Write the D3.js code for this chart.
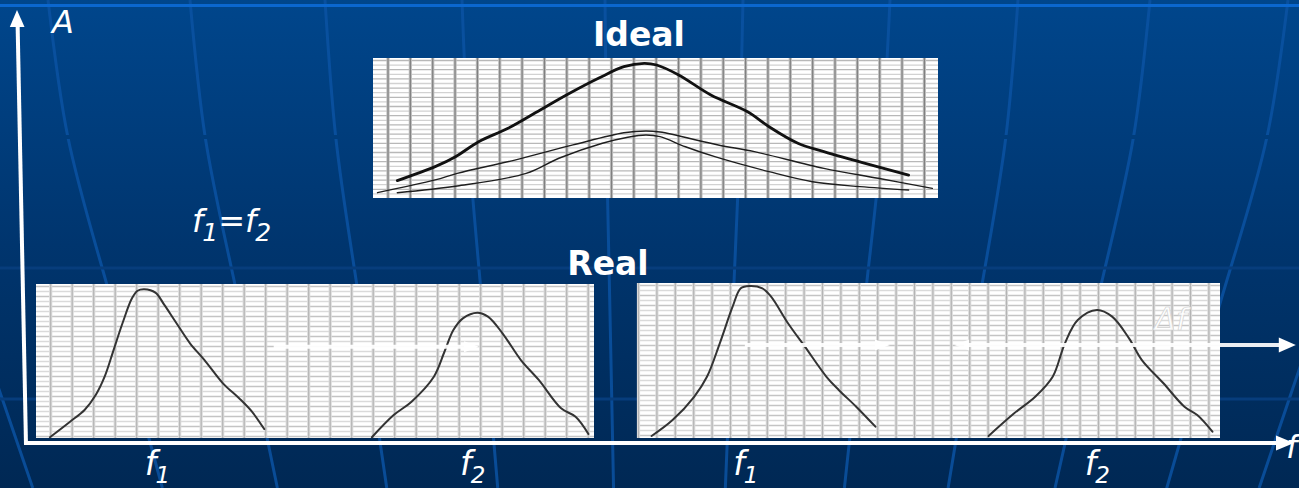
<!DOCTYPE html>
<html>
<head>
<meta charset="utf-8">
<script src="https://cdn.jsdelivr.net/npm/d3@7"></script>
<style>
  html, body { margin: 0; padding: 0; background: #003670; overflow: hidden; }
  svg { display: block; }
</style>
</head>
<body>
<svg id="chart" width="1299" height="488"></svg>
<script>
// ---- Spectra, as [f, A] on a 0..100 scale of their own panel ----
// Ideal case: two equal-frequency components and their sum
const idealSum = [[4.3,12.4],[11.0,22.4],[14.6,29.5],[18.7,40.2],[23.9,49.8],[29.6,62.9],[34.8,74.8],[39.9,85.5],[44.4,93.8],[48.0,96.2],[50.2,95.0],[54.1,87.9],[59.8,73.6],[66.3,61.6],[70.1,50.9],[75.2,39.1],[79.8,33.1],[88.1,23.6],[94.8,16.4]];
const idealWaveA = [[0.8,3.8],[11.0,12.9],[14.9,17.6],[25.1,27.1],[35.4,37.9],[44.4,46.6],[48.3,47.9],[50.8,47.1],[61.1,37.9],[67.5,33.1],[79.8,21.2],[89.4,14.1],[99.0,6.9]];
const idealWaveB = [[4.3,3.8],[14.9,8.6],[27.1,17.6],[32.9,28.4],[40.6,39.1],[45.1,43.4],[48.3,45.0],[50.8,43.8],[55.3,36.6],[60.5,29.5],[70.1,18.8],[77.8,11.6],[86.2,8.1],[94.8,5.7]];

// Real case, left panel: peaks at f1 and f2
const leftF1 = [[2.5,0.5],[6.1,10.6],[8.7,18.2],[10.7,27.9],[12.3,39.8],[13.9,57.1],[15.5,74.5],[17.2,90.7],[18.2,95.6],[19.4,96.6],[21.4,94.4],[23.0,86.4],[25.0,75.5],[27.6,61.5],[30.2,50.6],[33.5,35.5],[36.4,25.8],[38.7,17.1],[40.9,5.8]];
const leftF2 = [[60.2,0.5],[64.1,14.9],[67.3,23.6],[71.3,39.8],[73.2,56.0],[74.8,70.1],[76.5,77.7],[79.1,81.4],[81.0,78.8],[83.6,68.0],[86.9,50.6],[90.1,37.7],[94.1,19.3],[96.7,13.8],[99.0,2.6]];

// Real case, right panel
const rightF1 = [[2.5,1.3],[6.1,11.6],[9.8,26.6],[12.0,39.5],[14.2,61.1],[16.4,84.7],[17.8,96.6],[19.3,98.1],[21.5,96.6],[23.0,91.2],[25.9,74.0],[28.8,58.9],[32.5,39.5],[34.6,31.0],[37.6,20.2],[40.9,7.3]];
const rightF2 = [[60.3,1.3],[64.7,15.9],[68.3,26.6],[71.3,39.5],[73.4,61.1],[75.6,76.1],[78.9,82.6],[81.5,78.3],[84.4,64.3],[86.6,50.3],[90.3,35.3],[93.9,20.2],[96.1,14.8],[98.7,4.1]];

// Arrows: [fFrom, fTo, A, headAtStart]
const leftArrows = [[42.6, 79.4, 59.3, false]];
const rightArrows = [[18.5, 43.4, 60.0, false], [54.4, 113.0, 60.0, true]];

// Frequency labels under the axis: [f position, subscript]
const leftTicks = [[19.5, "1"], [76.0, "2"]];
const rightTicks = [[16.5, "1"], [76.8, "2"]];

// Titles and axis names
const titles = ["Ideal", "Real"];
const axisNames = ["A", "f"];
const deltaLabel = "Δf";
const deltaPos = [88.8, 69.7];

// ---- Layout ----
const W = 1299, H = 488;
const svg = d3.select("#chart");
const FONT = "'DejaVu Sans', Verdana, sans-serif";

const panels = {
  ideal: { x: 373, y: 58, w: 565, h: 140, v0: 15, vStep: 22.35, hStep: 4.6, vCore: "#808080", vSoft: "#bdbdbd", hA: "#b8b8b8", hB: "#d2d2d2" },
  left:  { x: 36,  y: 284, w: 558, h: 154, v0: 14.7, vStep: 21.5, hStep: 5.0, vCore: "#b4b4b4", vSoft: "#dcdcdc", hA: "#c4c4c4", hB: "#dadada" },
  right: { x: 637, y: 283, w: 583, h: 155, v0: 1.5, vStep: 18.4, hStep: 5.0, vCore: "#b4b4b4", vSoft: "#dcdcdc", hA: "#c4c4c4", hB: "#dadada" }
};
Object.values(panels).forEach(p => {
  p.sx = d3.scaleLinear([0, 100], [p.x, p.x + p.w]);
  p.sy = d3.scaleLinear([0, 100], [p.y + p.h, p.y]);
});

// ---- Background: gradient with a fanned grid of curved lines ----
const defs = svg.append("defs");
const grad = defs.append("linearGradient").attr("id", "bg")
  .attr("gradientUnits", "userSpaceOnUse").attr("x1", 0).attr("y1", 0).attr("x2", 0).attr("y2", H);
grad.append("stop").attr("offset", 0).attr("stop-color", "#00468c");
grad.append("stop").attr("offset", 0.5).attr("stop-color", "#00356e");
grad.append("stop").attr("offset", 1).attr("stop-color", "#002854");

svg.append("rect").attr("width", W).attr("height", H).attr("fill", "url(#bg)");

const bgTops = [-112, 48, 190, 325, 462, 605, 743, 890, 1018, 1150, 1288, 1402];
const bandY = [0, 137, 268, 399, 488];
const bandR = [1, 0.967, 0.91, 0.85, 0.81];
const bgLine = d3.line().curve(d3.curveNatural);
const bgG = svg.append("g");
bgTops.forEach(x0 => {
  const pts = bandY.map((y, i) => [650 + (x0 - 650) * bandR[i], y]);
  bgG.append("path").attr("d", bgLine(pts)).attr("fill", "none")
    .attr("stroke", "#0b52a2").attr("stroke-width", 3).attr("stroke-opacity", 0.85);
});
// band seams
svg.append("rect").attr("x", 0).attr("y", 135).attr("width", W).attr("height", 4).attr("fill", "url(#bg)");
[268, 399].forEach(y => {
  svg.append("line").attr("x1", 0).attr("x2", W).attr("y1", y).attr("y2", y)
    .attr("stroke", "#073d7c").attr("stroke-width", 3);
});
svg.append("line").attr("x1", 0).attr("x2", W).attr("y1", 5.5).attr("y2", 5.5)
  .attr("stroke", "#0b67cf").attr("stroke-width", 3);

// ---- Graph-paper panels ----
function drawPaper(p) {
  const g = svg.append("g");
  g.append("rect").attr("x", p.x).attr("y", p.y).attr("width", p.w).attr("height", p.h).attr("fill", "#ffffff");
  const hs = d3.range(p.y + 2.5, p.y + p.h - 1, p.hStep);
  g.selectAll(null).data(hs).join("line")
    .attr("x1", p.x).attr("x2", p.x + p.w).attr("y1", d => d).attr("y2", d => d)
    .attr("stroke", (d, i) => i % 2 ? p.hB : p.hA).attr("stroke-width", 1.3);
  const vs = d3.range(p.x + p.v0, p.x + p.w - 2, p.vStep);
  g.selectAll(null).data(vs).join("line")
    .attr("x1", d => d).attr("x2", d => d).attr("y1", p.y).attr("y2", p.y + p.h)
    .attr("stroke", p.vSoft).attr("stroke-width", 3.2);
  g.selectAll(null).data(vs).join("line")
    .attr("x1", d => d).attr("x2", d => d).attr("y1", p.y).attr("y2", p.y + p.h)
    .attr("stroke", p.vCore).attr("stroke-width", 1.2);
  return g;
}

function drawCurve(p, data, color, width) {
  const line = d3.line().x(d => p.sx(d[0])).y(d => p.sy(d[1])).curve(d3.curveCatmullRom.alpha(0.5));
  svg.append("path").attr("d", line(data)).attr("fill", "none")
    .attr("stroke", color).attr("stroke-width", width)
    .attr("stroke-linejoin", "round").attr("stroke-linecap", "round");
}

function drawArrow(p, a) {
  const [f0, f1, A, twoHeads] = a;
  const x0 = p.sx(f0), x1 = p.sx(f1), y = p.sy(A);
  const g = svg.append("g").attr("fill", "#ffffff").attr("stroke", "none");
  const outside = x1 > p.x + p.w;
  const headL = outside ? 17 : 15, headW = outside ? 7.5 : 5.5;
  g.append("line").attr("x1", twoHeads ? x0 + 10 : x0).attr("x2", x1 - headL + 2).attr("y1", y).attr("y2", y)
    .attr("stroke", "#ffffff").attr("stroke-width", 4).attr("stroke-opacity", 0.92);
  g.append("path").attr("d", `M${x1},${y} L${x1 - headL},${y - headW} L${x1 - headL},${y + headW} Z`);
  if (twoHeads) {
    g.append("path").attr("d", `M${x0},${y} L${x0 + 15},${y - 5.5} L${x0 + 15},${y + 5.5} Z`).attr("fill-opacity", 0.92);
  }
}

// Ideal
drawPaper(panels.ideal);
drawCurve(panels.ideal, idealWaveA, "#1e1e1e", 1.4);
drawCurve(panels.ideal, idealWaveB, "#1e1e1e", 1.4);
drawCurve(panels.ideal, idealSum, "#111111", 2.8);

// Real, left
drawPaper(panels.left);
drawCurve(panels.left, leftF1, "#333333", 2);
drawCurve(panels.left, leftF2, "#333333", 2);
leftArrows.forEach(a => drawArrow(panels.left, a));

// Real, right
drawPaper(panels.right);
drawCurve(panels.right, rightF1, "#333333", 2);
drawCurve(panels.right, rightF2, "#333333", 2);
rightArrows.forEach(a => drawArrow(panels.right, a));

svg.append("text").attr("x", panels.right.sx(deltaPos[0])).attr("y", panels.right.sy(deltaPos[1]))
  .attr("font-family", FONT).attr("font-style", "italic").attr("font-size", 31)
  .attr("fill", "#ffffff").attr("fill-opacity", 0.9).attr("stroke", "#d0d0d0").attr("stroke-width", 0.7)
  .text(deltaLabel);

// ---- Axes ----
const axisY = 443, axisX0 = 26;
const ax = svg.append("g");
ax.append("line").attr("x1", axisX0).attr("y1", axisY + 2).attr("x2", 17.6).attr("y2", 24)
  .attr("stroke", "#ffffff").attr("stroke-width", 4);
ax.append("path").attr("d", "M17,10 L24.5,27 L9.8,27 Z").attr("fill", "#ffffff");
ax.append("line").attr("x1", axisX0 - 2).attr("y1", axisY).attr("x2", 1280).attr("y2", axisY)
  .attr("stroke", "#ffffff").attr("stroke-width", 4);
ax.append("path").attr("d", `M1294,${axisY} L1276,${axisY - 7.5} L1276,${axisY + 7.5} Z`).attr("fill", "#ffffff");

svg.append("text").attr("x", 52).attr("y", 33).attr("font-family", FONT).attr("font-style", "italic")
  .attr("font-size", 32).attr("fill", "#ffffff").text(axisNames[0]);
svg.append("text").attr("x", 1286).attr("y", 458).attr("font-family", FONT).attr("font-style", "italic")
  .attr("font-size", 32).attr("fill", "#ffffff").text(axisNames[1]);

// ---- Frequency labels ----
function fLabel(x, y, parts) {
  const t = svg.append("text").attr("x", x).attr("y", y).attr("font-family", FONT)
    .attr("font-style", "italic").attr("fill", "#ffffff").attr("font-size", 32);
  parts.forEach(([txt, size, dy, dx]) => {
    t.append("tspan").attr("font-size", size).attr("dy", dy).attr("dx", dx).text(txt);
  });
}
function tickLabels(p, ticks) {
  ticks.forEach(([f, sub]) => fLabel(p.sx(f), 475, [["f", 33, 0, 0], [sub, 23, 8, -1]]));
}
tickLabels(panels.left, leftTicks);
tickLabels(panels.right, rightTicks);

fLabel(192, 232, [["f", 32, 0, 0], ["1", 25, 9, -1], ["=", 32, -9, 0], ["f", 32, 0, 0], ["2", 25, 9, -1]]);

// ---- Titles ----
svg.append("text").attr("x", 639).attr("y", 46).attr("text-anchor", "middle")
  .attr("font-family", FONT).attr("font-weight", "bold").attr("font-size", 33)
  .attr("fill", "#ffffff").text(titles[0]);
svg.append("text").attr("x", 608).attr("y", 275).attr("text-anchor", "middle")
  .attr("font-family", FONT).attr("font-weight", "bold").attr("font-size", 33)
  .attr("fill", "#ffffff").text(titles[1]);
</script>
</body>
</html>
